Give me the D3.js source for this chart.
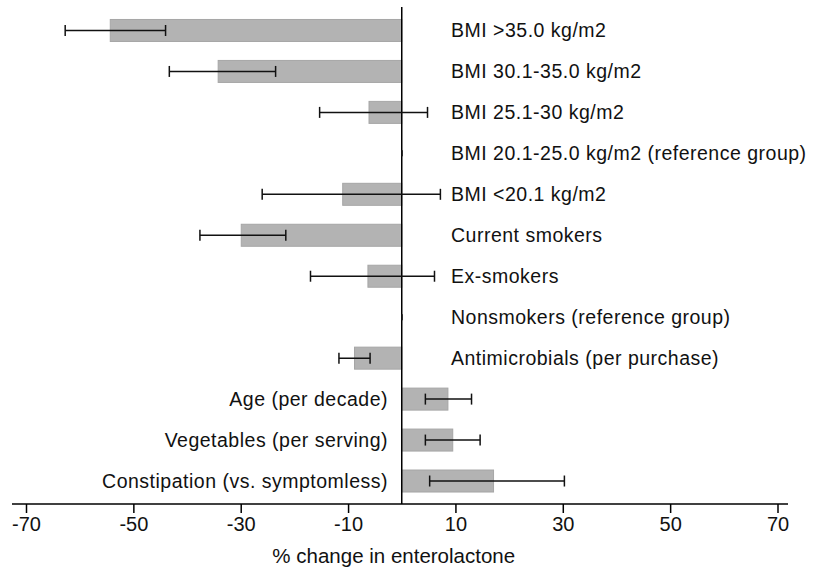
<!DOCTYPE html>
<html><head><meta charset="utf-8">
<script src="https://cdn.jsdelivr.net/npm/d3@7"></script>
<style>body{margin:0;background:#fff}svg{display:block}</style>
</head><body>
<svg id="c" width="819" height="569"></svg>
<script>
const categories = [
  "BMI >35.0 kg/m2",
  "BMI 30.1-35.0 kg/m2",
  "BMI 25.1-30 kg/m2",
  "BMI 20.1-25.0 kg/m2 (reference group)",
  "BMI <20.1 kg/m2",
  "Current smokers",
  "Ex-smokers",
  "Nonsmokers (reference group)",
  "Antimicrobials (per purchase)",
  "Age (per decade)",
  "Vegetables (per serving)",
  "Constipation (vs. symptomless)"
];
const estimates = [-54.3, -34.2, -6.1, 0, -11.0, -29.9, -6.3, 0, -8.8, 8.6, 9.5, 17.1];
const lower     = [-62.7, -43.3, -15.3, 0, -26.0, -37.6, -17.0, 0, -11.7, 4.4, 4.4, 5.2];
const upper     = [-44.0, -23.5, 4.8, 0, 7.2, -21.6, 6.1, 0, -5.9, 13.0, 14.6, 30.3];
const tickValues = [-70, -50, -30, -10, 10, 30, 50, 70];
const axisTitle = "% change in enterolactone";

const data = categories.map((c, i) => ({c, v: estimates[i], lo: lower[i], hi: upper[i]}));
const svg = d3.select("#c");
const font = "'Liberation Sans', Arial, Helvetica, sans-serif";

const x = d3.scaleLinear().domain([-70, 70]).range([26, 777.5]);
const y = d3.scalePoint().domain(categories).range([10, 501.5]).padding(0.5);
const barH = 22, axisY = 504;

// bars
svg.append("g").selectAll("rect").data(data).join("rect")
  .attr("x", d => Math.min(x(0), x(d.v)))
  .attr("width", d => Math.abs(x(d.v) - x(0)))
  .attr("y", d => y(d.c) - barH / 2)
  .attr("height", barH)
  .attr("fill", "#b3b3b3")
  .attr("stroke", "#a6a6a6")
  .attr("stroke-width", 1);

// zero line
svg.append("line")
  .attr("x1", x(0)).attr("x2", x(0))
  .attr("y1", 7).attr("y2", axisY)
  .attr("stroke", "#000").attr("stroke-width", 1.5);

// error bars
const eb = svg.append("g").attr("stroke", "#111").attr("stroke-width", 1.5);
data.forEach(d => {
  const cy = y(d.c);
  eb.append("line").attr("x1", x(d.lo)).attr("x2", x(d.hi)).attr("y1", cy).attr("y2", cy);
  const capH = d.hi === d.lo ? 3 : 5.5;
  [d.lo, d.hi].forEach(v => {
    eb.append("line").attr("x1", x(v)).attr("x2", x(v)).attr("y1", cy - capH).attr("y2", cy + capH);
  });
});

// labels
svg.append("g").selectAll("text").data(data).join("text")
  .attr("x", d => d.v > 0 ? 388 : 451)
  .attr("y", d => y(d.c) + 7)
  .attr("text-anchor", d => d.v > 0 ? "end" : "start")
  .attr("font-family", font)
  .attr("font-size", 19.5)
  .attr("letter-spacing", 0.5)
  .attr("fill", "#111")
  .text(d => d.c);

// x axis
const axis = d3.axisBottom(x).tickValues(tickValues).tickSize(9).tickPadding(4).tickFormat(d3.format("d"));
const ag = svg.append("g").attr("transform", `translate(0,${axisY})`).call(axis);
ag.select(".domain").remove();
ag.selectAll(".tick line").attr("stroke", "#000").attr("stroke-width", 1.5);
ag.selectAll(".tick text").attr("font-family", font).attr("font-size", 20).attr("fill", "#111")
  .text(d => String(d).replace("\u2212", "-"));
svg.append("line").attr("x1", 12).attr("x2", 788).attr("y1", axisY).attr("y2", axisY)
  .attr("stroke", "#000").attr("stroke-width", 1.5);

svg.append("text")
  .attr("x", x(0) - 8).attr("y", 563)
  .attr("text-anchor", "middle")
  .attr("font-family", font).attr("font-size", 20.5).attr("fill", "#111")
  .text(axisTitle);
</script>
</body></html>
